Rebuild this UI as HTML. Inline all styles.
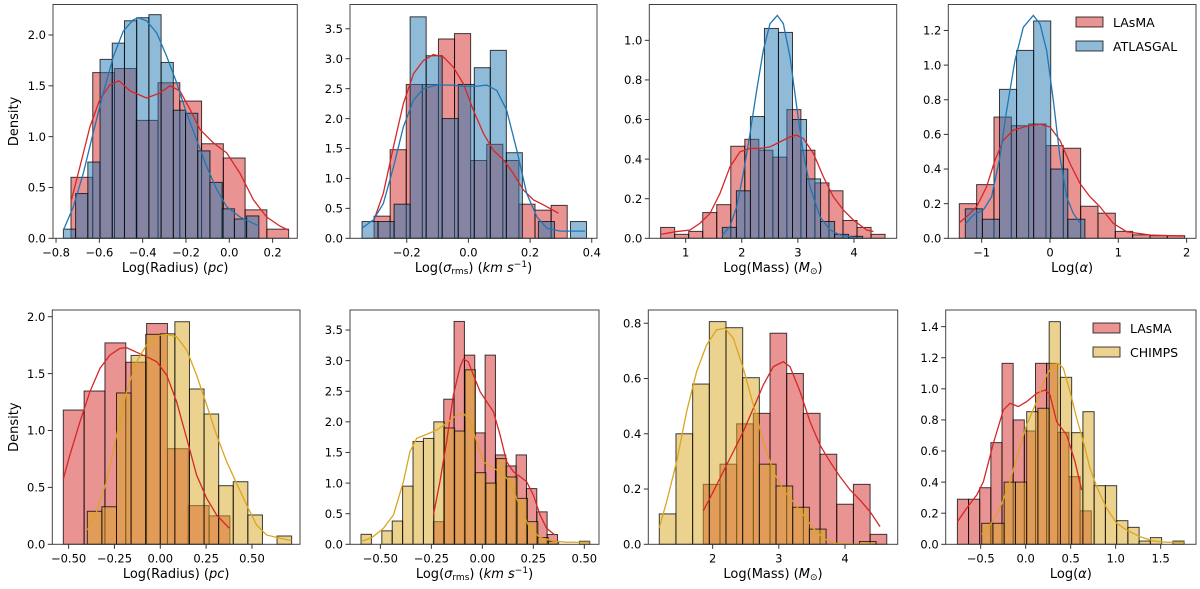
<!DOCTYPE html>
<html><head><meta charset="utf-8"><style>
html,body{margin:0;padding:0;background:#fff;}
svg{display:block;font-family:"DejaVu Sans","Liberation Sans",sans-serif;}
</style></head><body>
<svg id="fig" width="1200" height="589" viewBox="0 0 1200 589" xmlns="http://www.w3.org/2000/svg">
<rect x="0" y="0" width="1200" height="589" fill="#fff"/>
</svg>
<script>
// ---------- data ----------
const p1RedStart=-0.731, p1RedWidth=0.1005;
const p1RedH=[0.6,1.63,1.67,1.16,1.53,1.35,0.93,0.79,0.28,0.09];
const p1BlueStart=-0.766, p1BlueWidth=0.0564;
const p1BlueH=[0.09,0.44,0.75,1.76,1.92,2.14,2.17,2.2,1.73,1.26,1.23,0.86,0.55,0.29,0.19,0.22];
const p1RedKdeX=[-0.731,-0.689,-0.643,-0.597,-0.551,-0.509,-0.458,-0.382,-0.32,-0.274,-0.228,-0.182,-0.135,-0.074,-0.012,0.049,0.111,0.172,0.234,0.274];
const p1RedKdeY=[0.36,0.71,1.10,1.37,1.51,1.55,1.45,1.38,1.43,1.50,1.45,1.27,1.07,0.94,0.84,0.64,0.38,0.21,0.12,0.08];
const p1BlueKdeX=[-0.766,-0.72,-0.674,-0.628,-0.582,-0.535,-0.489,-0.443,-0.42,-0.382,-0.335,-0.289,-0.243,-0.197,-0.151,-0.105,-0.058,-0.012,0.049,0.137];
const p1BlueKdeY=[0.08,0.31,0.64,1.04,1.43,1.79,2.04,2.15,2.17,2.14,2.02,1.79,1.53,1.23,0.97,0.71,0.48,0.31,0.21,0.12];

const p2RedStart=-0.306, p2RedWidth=0.0522;
const p2RedH=[0.37,1.48,2.57,2.57,3.33,3.42,1.3,1.57,1.3,0.57,0.47,0.55];
const p2BlueStart=-0.345, p2BlueWidth=0.052;
const p2BlueH=[0.28,0.28,0.57,3.7,3.05,2.0,2.57,2.85,3.14,1.43,0,0.28,0,0.28];
const p2RedKdeX=[-0.306,-0.276,-0.243,-0.211,-0.178,-0.146,-0.114,-0.081,-0.049,-0.016,0.016,0.049,0.081,0.114,0.146,0.178,0.211,0.243,0.292];
const p2RedKdeY=[0.31,0.75,1.53,2.25,2.75,2.97,3.07,3.03,2.86,2.58,2.14,1.75,1.47,1.31,1.08,0.81,0.64,0.56,0.42];
const p2BlueKdeX=[-0.345,-0.308,-0.276,-0.243,-0.211,-0.178,-0.146,-0.103,-0.059,-0.016,0.027,0.059,0.092,0.124,0.157,0.189,0.222,0.254,0.297,0.378];
const p2BlueKdeY=[0.17,0.31,0.58,1.19,1.86,2.31,2.5,2.56,2.56,2.54,2.54,2.56,2.47,2.14,1.47,0.75,0.36,0.17,0.12,0.12];

const p3RedStart=0.554, p3RedWidth=0.25;
const p3RedH=[0.055,0.02,0.035,0.13,0.17,0.465,0.50,0.445,0.41,0.65,0.445,0.28,0.24,0.09,0.055,0.02];
const p3BlueStart=1.654, p3BlueWidth=0.25;
const p3BlueH=[0.055,0.24,0.615,1.06,1.04,0.60,0.3,0.085,0.02,0.01];
const p3RedKdeX=[0.554,0.84,1.077,1.255,1.434,1.612,1.79,1.969,2.147,2.325,2.503,2.682,2.86,2.979,3.098,3.276,3.454,3.632,3.81,3.989,4.226,4.345];
const p3RedKdeY=[0.02,0.034,0.042,0.076,0.126,0.227,0.361,0.437,0.454,0.454,0.462,0.487,0.513,0.521,0.504,0.429,0.311,0.210,0.143,0.092,0.042,0.034];
const p3BlueKdeX=[1.654,1.79,1.909,2.028,2.147,2.266,2.384,2.503,2.634,2.741,2.86,2.979,3.098,3.216,3.395,3.573,3.751,3.989];
const p3BlueKdeY=[0.017,0.059,0.16,0.328,0.529,0.748,0.95,1.084,1.126,1.084,0.916,0.664,0.429,0.26,0.109,0.042,0.017,0.005];

const p4RedStart=-1.327, p4RedWidth=0.2537;
const p4RedH=[0.2,0.31,0.70,0.65,0.66,0.535,0.52,0.185,0.145,0.04,0.02,0.015,0.015];
const p4BlueStart=-1.239, p4BlueWidth=0.25;
const p4BlueH=[0.17,0.11,0.86,1.085,1.255,0.40,0.11];
const p4RedKdeX=[-1.327,-1.22,-1.073,-0.927,-0.805,-0.683,-0.537,-0.341,-0.146,0,0.146,0.293,0.439,0.585,0.732,0.927,1.122,1.463,1.951];
const p4RedKdeY=[0.09,0.125,0.182,0.298,0.451,0.566,0.624,0.647,0.659,0.643,0.566,0.432,0.317,0.24,0.182,0.086,0.038,0.019,0.013];
const p4BlueKdeX=[-1.239,-1.122,-0.976,-0.854,-0.732,-0.634,-0.512,-0.39,-0.244,-0.146,-0.049,0.049,0.146,0.244,0.341,0.439];
const p4BlueKdeY=[0.083,0.134,0.163,0.24,0.47,0.739,1.027,1.219,1.287,1.238,1.085,0.797,0.47,0.24,0.144,0.09];

const p5RedStart=-0.529, p5RedWidth=0.1136;
const p5RedH=[1.18,1.347,1.77,1.60,1.94,0.84,0.34,0.25];
const p5YelStart=-0.398, p5YelWidth=0.0796;
const p5YelH=[0.29,0.33,1.33,1.66,1.845,1.85,1.956,1.365,1.145,0.515,0.55,0.258,0,0.073];
const p5RedKdeX=[-0.529,-0.493,-0.438,-0.384,-0.329,-0.275,-0.22,-0.184,-0.129,-0.075,-0.02,0.035,0.089,0.144,0.198,0.253,0.307,0.376];
const p5RedKdeY=[0.574,0.785,1.078,1.341,1.546,1.663,1.722,1.728,1.687,1.649,1.605,1.487,1.253,0.931,0.609,0.404,0.258,0.141];
const p5YelKdeX=[-0.398,-0.347,-0.293,-0.238,-0.184,-0.129,-0.075,-0.02,0.035,0.089,0.144,0.198,0.253,0.307,0.362,0.416,0.471,0.525,0.58,0.653,0.715];
const p5YelKdeY=[0.126,0.287,0.551,0.96,1.341,1.605,1.751,1.833,1.845,1.824,1.707,1.487,1.224,0.96,0.726,0.536,0.346,0.17,0.082,0.053,0.032];

const p6RedStart=-0.24, p6RedWidth=0.0507;
const p6RedH=[0.37,2.37,3.64,3.09,1.82,3.09,1.46,1.28,1.46,0.91,0.53,0.16];
const p6YelStart=-0.595, p6YelWidth=0.051;
const p6YelH=[0.163,0,0.22,0.38,0.95,1.68,1.73,2.0,1.9,1.85,2.85,1.17,1.0,1.4,1.1,0.75,0.37,0.11,0.05,0,0,0.05];
const p6RedKdeX=[-0.24,-0.208,-0.175,-0.142,-0.109,-0.093,-0.069,-0.044,-0.011,0.021,0.054,0.087,0.119,0.152,0.185,0.217,0.25,0.283,0.315,0.356];
const p6RedKdeY=[0.479,1.023,1.677,2.439,2.901,3.027,2.983,2.765,2.493,2.33,2.167,1.786,1.35,1.187,1.105,1.023,0.806,0.479,0.261,0.152];
const p6YelKdeX=[-0.595,-0.542,-0.485,-0.436,-0.387,-0.355,-0.322,-0.273,-0.224,-0.175,-0.126,-0.093,-0.06,-0.028,0.005,0.038,0.07,0.103,0.136,0.168,0.201,0.234,0.283,0.348,0.413,0.526];
const p6YelKdeY=[0.044,0.109,0.261,0.479,1.023,1.513,1.731,1.796,1.867,1.976,2.112,2.139,2.003,1.677,1.35,1.268,1.214,1.132,1.023,0.751,0.479,0.261,0.109,0.054,0.033,0.033];

const p7RedStart=1.859, p7RedWidth=0.252;
const p7RedH=[0.217,0.29,0.436,0.474,0.764,0.618,0.474,0.326,0.145,0.217,0.036];
const p7YelStart=1.194, p7YelWidth=0.252;
const p7YelH=[0.11,0.40,0.58,0.806,0.784,0.603,0.29,0.211,0.134,0.055,0,0,0.01];
const p7RedKdeX=[1.859,2.01,2.161,2.312,2.463,2.615,2.766,2.917,3.068,3.169,3.32,3.471,3.622,3.773,3.924,4.076,4.227,4.378,4.529];
const p7RedKdeY=[0.121,0.191,0.263,0.335,0.408,0.492,0.577,0.643,0.661,0.643,0.553,0.444,0.359,0.299,0.245,0.197,0.16,0.118,0.064];
const p7YelKdeX=[1.194,1.305,1.456,1.607,1.758,1.909,2.06,2.186,2.312,2.463,2.615,2.766,2.917,3.068,3.219,3.37,3.521,3.673,3.824,4.126,4.428];
const p7YelKdeY=[0.06,0.154,0.299,0.48,0.625,0.722,0.776,0.782,0.746,0.637,0.504,0.372,0.263,0.197,0.154,0.106,0.058,0.022,0.004,0,0];

const p8RedStart=-0.759, p8RedWidth=0.124;
const p8RedH=[0.29,0.29,0.364,0.654,1.164,0.8,0.729,1.164,1.164,0.72,0.435,0.215];
const p8YelStart=-0.489, p8YelWidth=0.125;
const p8YelH=[0.135,0.135,0.40,0.40,0.853,0.875,1.432,1.074,0.718,0.853,0.377,0.377,0.152,0.109,0.021,0.043,0,0.021];
const p8RedKdeX=[-0.759,-0.656,-0.544,-0.47,-0.359,-0.248,-0.174,-0.081,0.011,0.122,0.215,0.27,0.344,0.456,0.548,0.622];
const p8RedKdeY=[0.146,0.232,0.317,0.403,0.65,0.864,0.907,0.886,0.918,0.971,0.993,0.961,0.789,0.703,0.532,0.349];
const p8YelKdeX=[-0.489,-0.396,-0.285,-0.174,-0.081,0.011,0.122,0.233,0.307,0.363,0.419,0.493,0.567,0.641,0.715,0.789,0.9,1.011,1.122,1.27,1.419,1.567,1.763];
const p8YelKdeY=[0.064,0.124,0.232,0.403,0.596,0.768,0.918,1.089,1.154,1.164,1.132,0.982,0.81,0.66,0.489,0.371,0.232,0.135,0.092,0.049,0.021,0.013,0.013];

// tick arrays
const p1XTicks=[-0.8,-0.6,-0.4,-0.2,0,0.2], p1YTicks=[0,0.5,1,1.5,2];
const p2XTicks=[-0.2,0,0.2,0.4], p2YTicks=[0,0.5,1,1.5,2,2.5,3,3.5];
const p3XTicks=[1,2,3,4], p3YTicks=[0,0.2,0.4,0.6,0.8,1];
const p4XTicks=[-1,0,1,2], p4YTicks=[0,0.2,0.4,0.6,0.8,1,1.2];
const p5XTicks=[-0.5,-0.25,0,0.25,0.5], p5YTicks=[0,0.5,1,1.5,2];
const p6XTicks=[-0.5,-0.25,0,0.25,0.5], p6YTicks=[0,0.5,1,1.5,2,2.5,3,3.5];
const p7XTicks=[2,3,4], p7YTicks=[0,0.2,0.4,0.6,0.8];
const p8XTicks=[-0.5,0,0.5,1,1.5], p8YTicks=[0,0.2,0.4,0.6,0.8,1,1.2,1.4];

// ---------- rendering ----------
const NS='http://www.w3.org/2000/svg';
const svg=document.getElementById('fig');
const RED='#d62728', BLUE='#1f77b4', YEL='#daa520';
const FS=11.5;
function mk(tag,attrs,parent){const e=document.createElementNS(NS,tag);for(const k in attrs)e.setAttribute(k,attrs[k]);(parent||svg).appendChild(e);return e;}
function fmt(v,d){const s=Math.abs(v).toFixed(d);return (v<-1e-9?'\u2212':'')+s;}

function drawPanel(c){
  const g=mk('g',{});
  
  
  const sx=v=>c.x0+(v-c.xmin)/(c.xmax-c.xmin)*(c.x1-c.x0);
  const sy=v=>c.yb-(v/c.ymax)*(c.yb-c.yt);
  c.series.forEach(s=>{
    s.h.forEach((h,i)=>{
      if(h<=0)return;
      const a=sx(s.start+i*s.width), b=sx(s.start+(i+1)*s.width);
      const r=mk('rect',{x:a,y:sy(h),width:b-a,height:sy(0)-sy(h),fill:s.color,'fill-opacity':0.5,stroke:'#000','stroke-opacity':0.75,'stroke-width':1},g);
      
      
    });
  });
  c.series.forEach(s=>{
    let d='';
    s.kx.forEach((x,i)=>{d+=(i?'L':'M')+sx(x).toFixed(2)+' '+sy(s.ky[i]).toFixed(2);});
    const p=mk('path',{d:d,fill:'none',stroke:s.color,'stroke-width':1.3},g);
    
    
  });
  const fr=mk('rect',{x:c.x0,y:c.yt,width:c.x1-c.x0,height:c.yb-c.yt,fill:'none',stroke:'#444','stroke-width':1},g);
  
  
  c.xt.forEach(v=>{
    const x=sx(v);
    const t=mk('line',{x1:x,x2:x,y1:c.yb,y2:c.yb+4.5,stroke:'#333','stroke-width':1},g);
    
    
    const l=mk('text',{x:x,y:c.yb+18,'text-anchor':'middle','font-size':FS,fill:'#000'},g);
    
    
    l.textContent=fmt(v,c.xd);
  });
  c.yt_.forEach(v=>{
    const y=sy(v);
    const t=mk('line',{x1:c.x0-4.5,x2:c.x0,y1:y,y2:y,stroke:'#333','stroke-width':1},g);
    
    
    const l=mk('text',{x:c.x0-7,y:y+4.2,'text-anchor':'end','font-size':FS,fill:'#000'},g);
    
    
    l.textContent=fmt(v,1);
  });
  const xl=mk('text',{x:(c.x0+c.x1)/2,y:c.yb+33.5,'text-anchor':'middle','font-size':13,fill:'#000'},g);
  
  
  xl.innerHTML=c.xlabel;
  if(c.ylabel){
    const yl=mk('text',{x:0,y:0,'text-anchor':'middle','font-size':13,fill:'#000',transform:'translate(18,'+((c.yt+c.yb)/2)+') rotate(-90)'},g);
    
    
    yl.textContent=c.ylabel;
  }
  if(c.legend){
    c.series.forEach((s,i)=>{
      const ly=c.legend.y+i*24;
      const r=mk('rect',{x:c.legend.x,y:ly,width:27,height:10,fill:s.color,'fill-opacity':0.5,stroke:'#000','stroke-opacity':0.75,'stroke-width':1},g);
      
      
      const t=mk('text',{x:c.legend.x+37,y:ly+10,'font-size':12.5,fill:'#000'},g);
      
      
      t.textContent=s.label;
    });
  }
}
const XR='Log(Radius) (<tspan font-style="italic">pc</tspan>)';
const XS='Log(<tspan font-style="italic">σ</tspan><tspan font-size="9" dy="2">rms</tspan><tspan dy="-2">) (</tspan><tspan font-style="italic">km s</tspan><tspan font-size="9" dy="-5">−1</tspan><tspan dy="5">)</tspan>';
const XM='Log(Mass) (<tspan font-style="italic">M</tspan><tspan font-size="9" dy="2">⊙</tspan><tspan dy="-2">)</tspan>';
const XA='Log(<tspan font-style="italic">α</tspan>)';
const TOP={yt:4.5,yb:238.3}, BOT={yt:310,yb:544.3};
function ser(label,color,start,width,h,kx,ky){return {label,color,start,width,h,kx,ky};}
drawPanel({name:'panel-radius-atlasgal',x0:53,x1:297.3,...TOP,xmin:-0.814,xmax:0.314,ymax:2.30,xt:p1XTicks,yt_:p1YTicks,xd:1,xlabel:XR,ylabel:'Density',
  series:[ser('LAsMA',RED,p1RedStart,p1RedWidth,p1RedH,p1RedKdeX,p1RedKdeY),ser('ATLASGAL',BLUE,p1BlueStart,p1BlueWidth,p1BlueH,p1BlueKdeX,p1BlueKdeY)]});
drawPanel({name:'panel-sigma-atlasgal',x0:350,x1:597,...TOP,xmin:-0.384,xmax:0.417,ymax:3.906,xt:p2XTicks,yt_:p2YTicks,xd:1,xlabel:XS,
  series:[ser('LAsMA',RED,p2RedStart,p2RedWidth,p2RedH,p2RedKdeX,p2RedKdeY),ser('ATLASGAL',BLUE,p2BlueStart,p2BlueWidth,p2BlueH,p2BlueKdeX,p2BlueKdeY)]});
drawPanel({name:'panel-mass-atlasgal',x0:649.3,x1:896.7,...TOP,xmin:0.352,xmax:4.761,ymax:1.181,xt:p3XTicks,yt_:p3YTicks,xd:0,xlabel:XM,
  series:[ser('LAsMA',RED,p3RedStart,p3RedWidth,p3RedH,p3RedKdeX,p3RedKdeY),ser('ATLASGAL',BLUE,p3BlueStart,p3BlueWidth,p3BlueH,p3BlueKdeX,p3BlueKdeY)]});
drawPanel({name:'panel-alpha-atlasgal',x0:948.3,x1:1196,...TOP,xmin:-1.488,xmax:2.137,ymax:1.35,xt:p4XTicks,yt_:p4YTicks,xd:0,xlabel:XA,legend:{x:1076,y:17},
  series:[ser('LAsMA',RED,p4RedStart,p4RedWidth,p4RedH,p4RedKdeX,p4RedKdeY),ser('ATLASGAL',BLUE,p4BlueStart,p4BlueWidth,p4BlueH,p4BlueKdeX,p4BlueKdeY)]});
drawPanel({name:'panel-radius-chimps',x0:52.3,x1:300,...BOT,xmin:-0.589,xmax:0.762,ymax:2.059,xt:p5XTicks,yt_:p5YTicks,xd:2,xlabel:XR,ylabel:'Density',
  series:[ser('LAsMA',RED,p5RedStart,p5RedWidth,p5RedH,p5RedKdeX,p5RedKdeY),ser('CHIMPS',YEL,p5YelStart,p5YelWidth,p5YelH,p5YelKdeX,p5YelKdeY)]});
drawPanel({name:'panel-sigma-chimps',x0:350,x1:599,...BOT,xmin:-0.649,xmax:0.572,ymax:3.827,xt:p6XTicks,yt_:p6YTicks,xd:2,xlabel:XS,
  series:[ser('LAsMA',RED,p6RedStart,p6RedWidth,p6RedH,p6RedKdeX,p6RedKdeY),ser('CHIMPS',YEL,p6YelStart,p6YelWidth,p6YelH,p6YelKdeX,p6YelKdeY)]});
drawPanel({name:'panel-mass-chimps',x0:648.3,x1:897.7,...BOT,xmin:1.028,xmax:4.796,ymax:0.848,xt:p7XTicks,yt_:p7YTicks,xd:0,xlabel:XM,
  series:[ser('LAsMA',RED,p7RedStart,p7RedWidth,p7RedH,p7RedKdeX,p7RedKdeY),ser('CHIMPS',YEL,p7YelStart,p7YelWidth,p7YelH,p7YelKdeX,p7YelKdeY)]});
drawPanel({name:'panel-alpha-chimps',x0:945.7,x1:1196,...BOT,xmin:-0.889,xmax:1.893,ymax:1.507,xt:p8XTicks,yt_:p8YTicks,xd:1,xlabel:XA,legend:{x:1093,y:323},
  series:[ser('LAsMA',RED,p8RedStart,p8RedWidth,p8RedH,p8RedKdeX,p8RedKdeY),ser('CHIMPS',YEL,p8YelStart,p8YelWidth,p8YelH,p8YelKdeX,p8YelKdeY)]});
</script>
</body></html>
